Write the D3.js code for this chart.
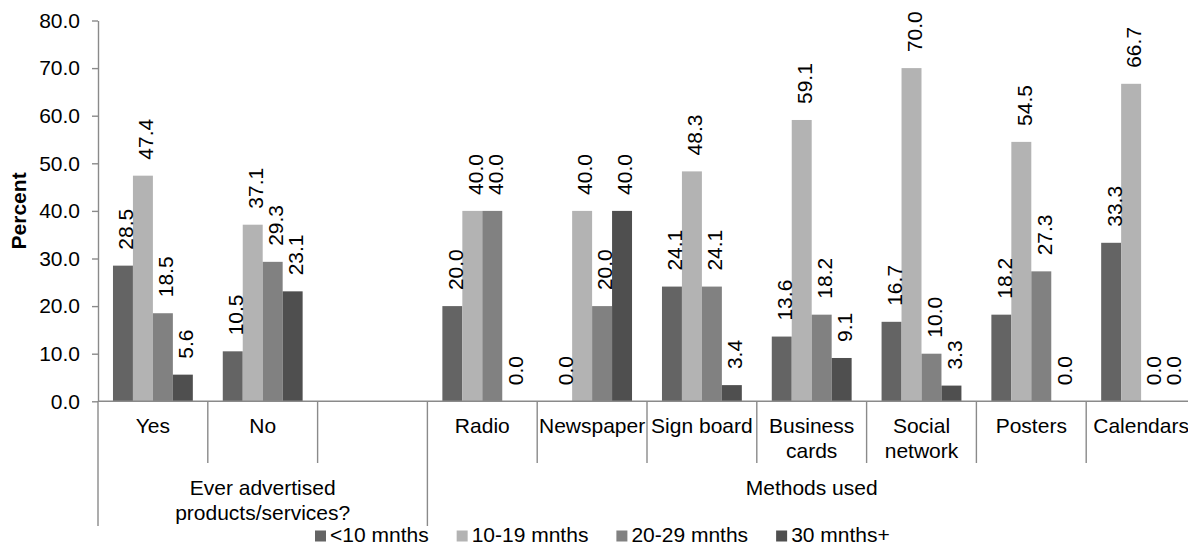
<!DOCTYPE html>
<html>
<head>
<meta charset="utf-8">
<script src="https://cdn.jsdelivr.net/npm/d3@7"></script>
<style>
  html, body { margin: 0; padding: 0; background: #fff; }
  svg { display: block; font-family: "Liberation Sans", Arial, sans-serif; }
</style>
</head>
<body>
<svg id="chart" width="1188" height="546"></svg>
<script>
// ---- data ----
const categories = ["Yes", "No", "", "Radio", "Newspaper", "Sign board", "Business cards", "Social network", "Posters", "Calendars"];
const categoryLines = [["Yes"], ["No"], [""], ["Radio"], ["Newspaper"], ["Sign board"], ["Business", "cards"], ["Social", "network"], ["Posters"], ["Calendars"]];
const seriesNames = ["<10 mnths", "10-19 mnths", "20-29 mnths", "30 mnths+"];
const lt10   = [28.5, 10.5, null, 20.0,  0.0, 24.1, 13.6, 16.7, 18.2, 33.3];
const m10_19 = [47.4, 37.1, null, 40.0, 40.0, 48.3, 59.1, 70.0, 54.5, 66.7];
const m20_29 = [18.5, 29.3, null, 40.0, 20.0, 24.1, 18.2, 10.0, 27.3,  0.0];
const m30p   = [ 5.6, 23.1, null,  0.0, 40.0,  3.4,  9.1,  3.3,  0.0,  0.0];
const groupNames = [["Ever advertised", "products/services?"], ["Methods used"]];
const groupMembers = [["Yes", "No", ""], ["Radio", "Newspaper", "Sign board", "Business cards", "Social network", "Posters", "Calendars"]];
const yTicks = [0, 10, 20, 30, 40, 50, 60, 70, 80];

(function () {
const seriesValues = [lt10, m10_19, m20_29, m30p];
const colors = ["#646464", "#b3b3b3", "#818181", "#4f4f4f"];
const axisColor = "#8a8a8a";
const FS = 21;

const svg = d3.select("#chart");
const mLeft = 98, mRight = 1196, mTop = 20.5, mBottom = 401.3;

const x0 = d3.scaleBand().domain(categories).range([mLeft, mRight]).paddingInner(0).paddingOuter(0);
const x1 = d3.scaleBand().domain(seriesNames).range([0, x0.bandwidth()]).paddingInner(0).paddingOuter(0.75);
const y = d3.scaleLinear().domain([0, 80]).range([mBottom, mTop]);

// bars
const barData = [];
categories.forEach((c, i) => {
  seriesNames.forEach((s, j) => {
    const v = seriesValues[j][i];
    if (v !== null && v !== undefined) barData.push({ c, s, v, j });
  });
});

svg.append("g").selectAll("rect").data(barData).join("rect")
  .attr("x", d => x0(d.c) + x1(d.s))
  .attr("y", d => y(d.v))
  .attr("width", x1.bandwidth())
  .attr("height", d => y(0) - y(d.v))
  .attr("fill", d => colors[d.j]);

// data labels
svg.append("g").selectAll("text").data(barData).join("text")
  .attr("transform", d => `translate(${x0(d.c) + x1(d.s) + x1.bandwidth() / 2 + 3},${y(d.v) - 16}) rotate(-90)`)
  .attr("dy", "0.35em")
  .attr("text-anchor", "start")
  .attr("font-size", FS)
  .attr("fill", "#000")
  .text(d => d3.format(".1f")(d.v));

// y axis
const yAxis = d3.axisLeft(y).tickValues(yTicks).tickFormat(d3.format(".1f")).tickSize(6).tickSizeOuter(0).tickPadding(12);
const gy = svg.append("g").attr("transform", `translate(${mLeft},0)`).call(yAxis);
gy.select(".domain").attr("stroke", axisColor).attr("stroke-width", 1.4);
gy.selectAll(".tick line").attr("stroke", axisColor).attr("stroke-width", 1.4);
gy.selectAll(".tick text").attr("font-size", FS).attr("fill", "#000").attr("font-family", "Liberation Sans, Arial, sans-serif");

// y title
svg.append("text")
  .attr("transform", `translate(19,${(mTop + mBottom) / 2}) rotate(-90)`)
  .attr("text-anchor", "middle")
  .attr("dy", "0.35em")
  .attr("font-size", FS)
  .attr("font-weight", "bold")
  .attr("fill", "#000")
  .text("Percent");

// x axis line
svg.append("line")
  .attr("x1", mLeft).attr("x2", mRight)
  .attr("y1", y(0)).attr("y2", y(0))
  .attr("stroke", axisColor).attr("stroke-width", 1.4);

// separators
const groupStarts = groupMembers.map(g => g[0]);
const bounds = categories.map(c => ({ x: x0(c), long: groupStarts.includes(c) }));
bounds.push({ x: x0(categories[categories.length - 1]) + x0.bandwidth(), long: true });
svg.append("g").selectAll("line").data(bounds).join("line")
  .attr("x1", d => d.x).attr("x2", d => d.x)
  .attr("y1", y(0))
  .attr("y2", d => d.long ? 526 : 463)
  .attr("stroke", axisColor).attr("stroke-width", 1.4);

// category labels
const catG = svg.append("g").selectAll("text").data(categories).join("text")
  .attr("text-anchor", "middle")
  .attr("font-size", FS)
  .attr("fill", "#000");
catG.each(function (c, i) {
  const t = d3.select(this);
  categoryLines[i].forEach((ln, k) => {
    t.append("tspan").attr("x", x0(c) + x0.bandwidth() / 2).attr("y", 433 + k * 24.5).text(ln);
  });
});

// group labels
groupNames.forEach((lines, gi) => {
  const mem = groupMembers[gi];
  const gx0 = x0(mem[0]);
  const gx1 = x0(mem[mem.length - 1]) + x0.bandwidth();
  const t = svg.append("text")
    .attr("text-anchor", "middle")
    .attr("font-size", FS)
    .attr("fill", "#000");
  lines.forEach((ln, k) => {
    t.append("tspan").attr("x", (gx0 + gx1) / 2).attr("y", 495 + k * 25).text(ln);
  });
});

// legend
let lx = 315;
const legY = 541.5;
seriesNames.forEach((s, j) => {
  svg.append("rect").attr("x", lx).attr("y", legY - 11).attr("width", 11).attr("height", 11).attr("fill", colors[j]);
  const t = svg.append("text").attr("x", lx + 15).attr("y", legY)
    .attr("font-size", FS).attr("fill", "#000").text(s);
  lx = lx + 15 + t.node().getComputedTextLength() + 28;
});
})();
</script>
</body>
</html>
